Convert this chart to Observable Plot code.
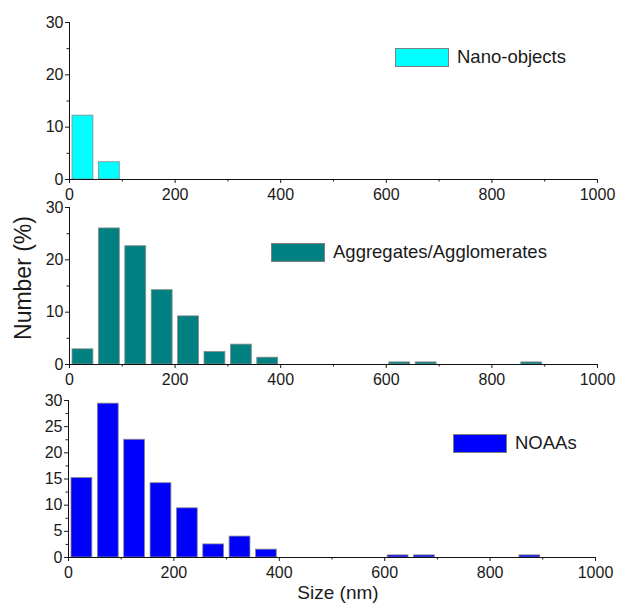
<!DOCTYPE html>
<html>
<head>
<meta charset="utf-8">
<script src="https://cdn.jsdelivr.net/npm/d3@7"></script>
<script src="https://cdn.jsdelivr.net/npm/@observablehq/plot@0.6"></script>
<style>
  html, body { margin: 0; padding: 0; background: #fff; }
  #wrap { position: relative; width: 619px; height: 604px; font-family: "Liberation Sans", Arial, sans-serif; }
  .panel { position: absolute; left: 0; }
  .leg { position: absolute; display: flex; align-items: center; font-size: 18.5px; color: #1a1a1a; white-space: nowrap; }
  .sw { width: 54px; height: 19px; border: 1px solid #808080; box-sizing: border-box; margin-right: 8px; }
  .ytitle { position: absolute; left: 23px; top: 278px; transform: translate(-50%, -50%) rotate(-90deg); font-size: 23px; color: #1a1a1a; white-space: nowrap; line-height: 1; }
</style>
</head>
<body>
<div id="wrap"></div>
<script>
// ---- data (bin lower edges in nm, bin width 50 nm; values in %) ----
const binWidth = 50;
const nanoBins = [0, 50];
const nanoValues = [12.2, 3.3];

const aggBins = [0, 50, 100, 150, 200, 250, 300, 350, 600, 650, 850];
const aggValues = [2.9, 26.0, 22.6, 14.2, 9.2, 2.4, 3.8, 1.3, 0.4, 0.4, 0.4];

const noaaBins = [0, 50, 100, 150, 200, 250, 300, 350, 600, 650, 850];
const noaaValues = [15.2, 29.4, 22.5, 14.2, 9.4, 2.5, 4.0, 1.5, 0.4, 0.4, 0.4];

const seriesNames = ["Nano-objects", "Aggregates/Agglomerates", "NOAAs"];
const seriesColors = ["#00ffff", "#008080", "#0000ff"];

const xMajorTicks = [0, 200, 400, 600, 800, 1000];
const xMinorTicks = [100, 300, 500, 700, 900];
const yMajorTicks10 = [0, 10, 20, 30];
const yMinorTicks10 = [5, 15, 25];
const yMajorTicks5 = [0, 5, 10, 15, 20, 25, 30];
const yMinorTicks5 = [2.5, 7.5, 12.5, 17.5, 22.5, 27.5];

const yTitle = "Number (%)";
const xTitle = "Size (nm)";

// ---- drawing ----
const wrap = document.getElementById("wrap");
const font = "Liberation Sans, Arial, sans-serif";
const fmt = d => String(d);

function makePanel(bins, values, color, opts) {
  const data = bins.map((lo, i) => ({lo, hi: lo + binWidth, v: values[i]}));
  const marks = [
    Plot.rectY(data, {x1: "lo", x2: "hi", y: "v", fill: color, stroke: "#8a8a8a", strokeWidth: 0.8, insetLeft: 3, insetRight: 2.5}),
    Plot.axisX({ticks: xMajorTicks, tickFormat: fmt, tickSize: 4, tickPadding: 5, label: null, fontSize: 16}),
    Plot.axisX({ticks: xMinorTicks, tickSize: 2.5, text: null, label: null}),
    Plot.axisY({ticks: opts.yMajor, tickFormat: fmt, tickSize: 4, tickPadding: 2, label: null, fontSize: 16}),
    Plot.axisY({ticks: opts.yMinor, tickSize: 2.5, text: null, label: null}),
    Plot.ruleX([0], {stroke: "#111", strokeWidth: 1}),
    Plot.ruleY([0], {stroke: "#111", strokeWidth: 1.2})
  ];
  if (opts.extra) marks.push(...opts.extra);
  return Plot.plot({
    width: 619,
    height: opts.height,
    marginLeft: opts.marginLeft,
    marginRight: opts.marginRight,
    marginTop: opts.marginTop,
    marginBottom: opts.marginBottom,
    style: {fontFamily: font, fontSize: "16px", color: "#1a1a1a", background: "transparent", overflow: "visible"},
    x: {domain: [0, 1000]},
    y: {domain: [0, 30]},
    marks
  });
}

const p1 = makePanel(nanoBins, nanoValues, seriesColors[0], {
  height: 200, marginTop: 22, marginBottom: 21, marginLeft: 69, marginRight: 22,
  yMajor: yMajorTicks10, yMinor: yMinorTicks10
});
const p2 = makePanel(aggBins, aggValues, seriesColors[1], {
  height: 200, marginTop: 22, marginBottom: 21, marginLeft: 69, marginRight: 22,
  yMajor: yMajorTicks10, yMinor: yMinorTicks10
});
const p3 = makePanel(noaaBins, noaaValues, seriesColors[2], {
  height: 226, marginTop: 22, marginBottom: 47, marginLeft: 68, marginRight: 24,
  yMajor: yMajorTicks5, yMinor: yMinorTicks5,
  extra: [Plot.text([xTitle], {frameAnchor: "bottom", dy: 41, dx: 6, fontSize: 19, fill: "#1a1a1a"})]
});

[[p1, 0], [p2, 185], [p3, 378]].forEach(([p, top]) => {
  const d = document.createElement("div");
  d.className = "panel";
  d.style.top = top + "px";
  d.appendChild(p);
  wrap.appendChild(d);
});

// y title
const yt = document.createElement("div");
yt.className = "ytitle";
yt.textContent = yTitle;
wrap.appendChild(yt);

// legends
const legendPos = [[395, 46], [271, 241], [453, 432]];
seriesNames.forEach((name, i) => {
  const l = document.createElement("div");
  l.className = "leg";
  l.style.left = legendPos[i][0] + "px";
  l.style.top = legendPos[i][1] + "px";
  const sw = document.createElement("div");
  sw.className = "sw";
  sw.style.background = seriesColors[i];
  const t = document.createElement("span");
  t.textContent = name;
  l.appendChild(sw);
  l.appendChild(t);
  wrap.appendChild(l);
});
</script>
</body>
</html>
